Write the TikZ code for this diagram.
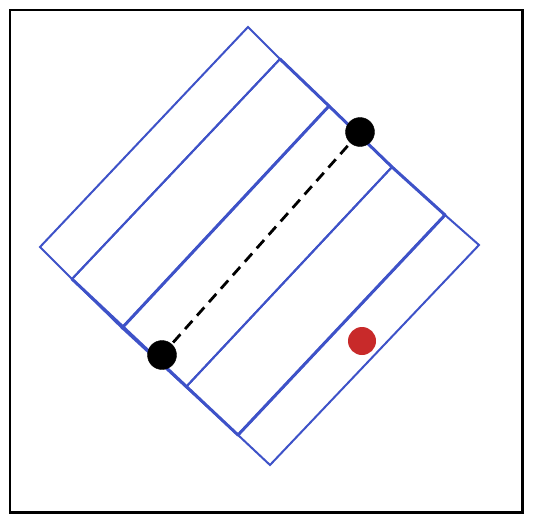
\documentclass[tikz,border=0pt]{standalone}
\usetikzlibrary{calc}
\definecolor{stripblue}{RGB}{62,82,200}
\definecolor{dotred}{RGB}{200,42,42}
\tikzset{
  frame/.style={draw=black,line width=2.6pt},
  strip/.style={draw=stripblue,line width=2pt,line join=miter},
  seam/.style={draw=stripblue,line width=3pt,line cap=round},
  blackdot/.style={circle,fill=black,draw=black,minimum size=29pt,inner sep=0pt},
  reddot/.style={circle,fill=dotred,minimum size=28pt,inner sep=0pt},
  link/.style={draw=black,line width=2.8pt,dash pattern=on 11pt off 7pt,shorten <=2pt,shorten >=2pt}
}
\begin{document}
\begin{tikzpicture}[x=1pt,y=-1pt]
\useasboundingbox (0,0) rectangle (533,522);
\draw[frame] (10,10) rectangle (522.5,512.5);
% corner points of the strips
\coordinate (T) at (248,27);
\coordinate (P1) at (280,59);
\coordinate (P2) at (329,106);
\coordinate (P3) at (392,167);
\coordinate (P4) at (445,215);
\coordinate (R) at (479,245);
\coordinate (L) at (40,247);
\coordinate (Q1) at (72,279);
\coordinate (Q2) at (122,328);
\coordinate (Q3) at (186,387);
\coordinate (Q4) at (238,435);
\coordinate (B) at (270,465);
% strips
\draw[strip] (T) -- (P1) -- (Q1) -- (L) -- cycle;
\draw[strip] (P1) -- (P2) -- (Q2) -- (Q1) -- cycle;
\draw[strip] (P2) -- (P3) -- (Q3) -- (Q2) -- cycle;
\draw[strip] (P3) -- (P4) -- (Q4) -- (Q3) -- cycle;
\draw[strip] (P4) -- (R) -- (B) -- (Q4) -- cycle;
% heavier seams
\draw[seam] (P1) -- (P2) -- (P3) -- (P4);
\draw[seam] (Q1) -- (Q4);
\draw[seam] (P2) -- (Q2);
\draw[seam] (P4) -- (Q4);
% dots
\node[blackdot] (a) at (360,132) {};
\node[blackdot] (b) at (162,355) {};
\node[reddot] (c) at (362,341) {};
\draw[link] (b) -- (a);
\end{tikzpicture}
\end{document}
